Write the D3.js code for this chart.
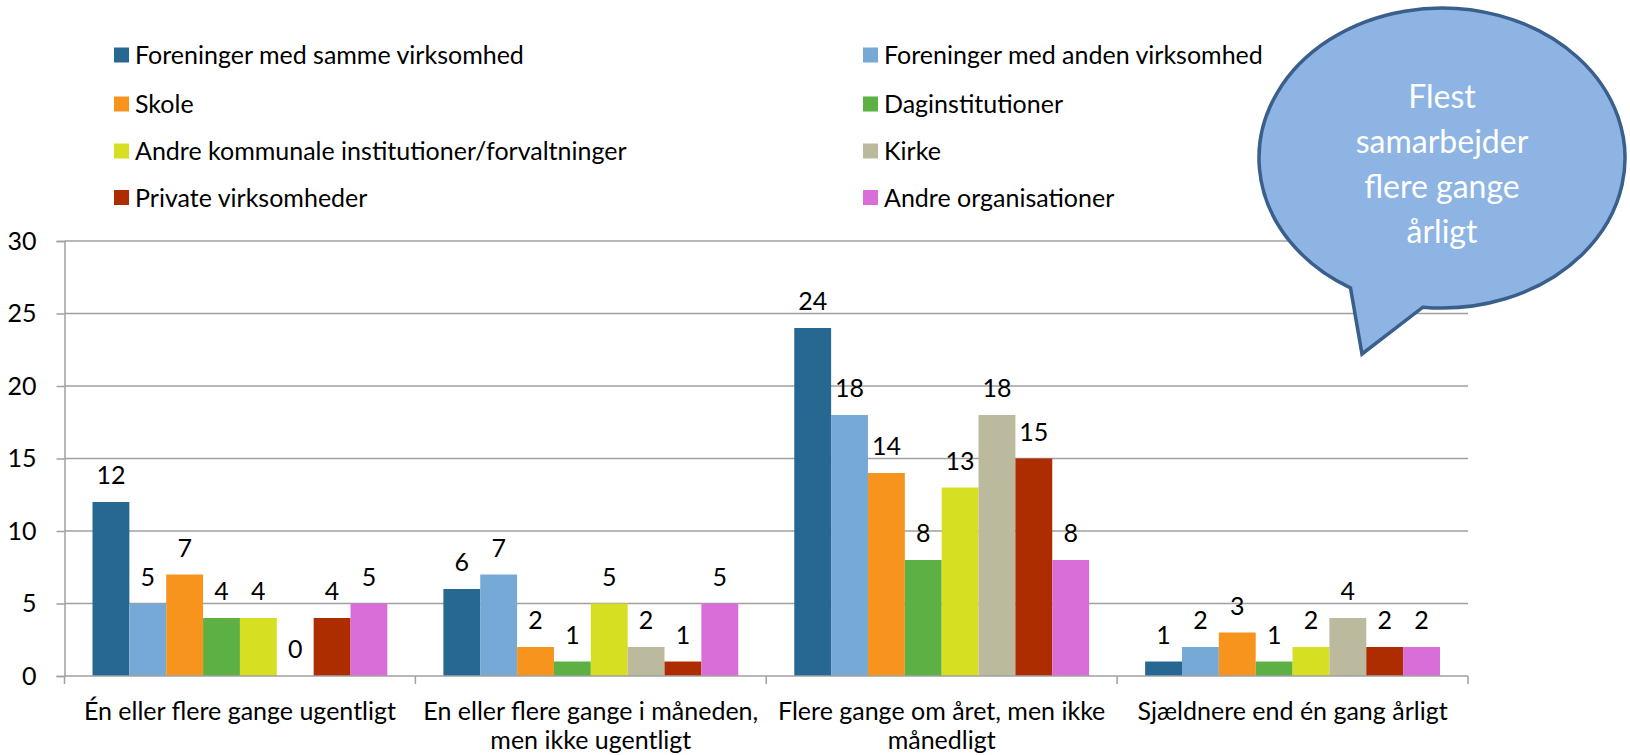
<!DOCTYPE html>
<html>
<head>
<meta charset="utf-8">
<script src="https://cdn.jsdelivr.net/npm/d3@7"></script>
<style>
  body { margin: 0; background: #fff; }
  text { font-family: Lato, "Open Sans", sans-serif; fill: #000; }
</style>
</head>
<body>
<div id="dataviz"></div>
<script>
"use strict";

// categories (line breaks as in the original axis labels)
var categories = [
    "Én eller flere gange ugentligt",
    "En eller flere gange i måneden,\nmen ikke ugentligt",
    "Flere gange om året, men ikke\nmånedligt",
    "Sjældnere end én gang årligt"
];

var seriesNames = [
    "Foreninger med samme virksomhed",
    "Foreninger med anden virksomhed",
    "Skole",
    "Daginstitutioner",
    "Andre kommunale institutioner/forvaltninger",
    "Kirke",
    "Private virksomheder",
    "Andre organisationer"
];

var seriesColors = ["#266892", "#77A9D7", "#F7941E", "#5DB044", "#D7DF23", "#BBBA9E", "#AE2D00", "#D96ED9"];

// values per series, one per category
var foreningerSamme = [12, 6, 24, 1];
var foreningerAnden = [5, 7, 18, 2];
var skole           = [7, 2, 14, 3];
var daginst         = [4, 1, 8, 1];
var andreKommunale  = [4, 5, 13, 2];
var kirke           = [0, 2, 18, 4];
var private_        = [4, 1, 15, 2];
var andreOrg        = [5, 5, 8, 2];

var seriesValues = [foreningerSamme, foreningerAnden, skole, daginst, andreKommunale, kirke, private_, andreOrg];

var yTicks = [0, 5, 10, 15, 20, 25, 30];

var bubbleLines = ["Flest", "samarbejder", "flere gange", "årligt"];

// ---------------------------------------------------------------
var W = 1630, H = 755;
var plot = { left: 64.5, right: 1468, top: 241, bottom: 676 };
var fontSize = 25;

var svg = d3.select("#dataviz").append("svg")
    .attr("width", W)
    .attr("height", H);

var xScale = d3.scaleBand()
    .domain(d3.range(categories.length))
    .range([plot.left, plot.right]);

var x1 = d3.scaleBand()
    .domain(d3.range(seriesNames.length))
    .range([0, xScale.bandwidth()])
    .paddingOuter(0.76);

var yScale = d3.scaleLinear().domain([0, 30]).range([plot.bottom, plot.top]);

// gridlines
svg.append("g")
    .selectAll("line")
    .data(yTicks.slice(1))
    .enter().append("line")
    .attr("x1", plot.left)
    .attr("x2", plot.right)
    .attr("y1", function (d) { return yScale(d); })
    .attr("y2", function (d) { return yScale(d); })
    .attr("stroke", "#A0A0A0")
    .attr("stroke-width", 1.5);

// y axis
var yAxis = d3.axisLeft(yScale).tickValues(yTicks).tickSize(8).tickPadding(20);
var gy = svg.append("g")
    .attr("transform", "translate(" + plot.left + ",0)")
    .call(yAxis);
gy.select(".domain").attr("stroke", "#A0A0A0").attr("stroke-width", 1.5);
gy.selectAll(".tick line").attr("stroke", "#A0A0A0").attr("stroke-width", 1.5);
gy.selectAll(".tick text")
    .attr("font-size", fontSize)
    .attr("font-family", "Lato, sans-serif")
    .attr("fill", "#000");

// bars
var groups = svg.append("g")
    .selectAll("g")
    .data(categories)
    .enter().append("g")
    .attr("transform", function (d, i) { return "translate(" + xScale(i) + ",0)"; });

groups.selectAll("rect")
    .data(function (d, ci) {
        return seriesValues.map(function (vals, si) { return { s: si, v: vals[ci] }; });
    })
    .enter().append("rect")
    .attr("x", function (d) { return x1(d.s); })
    .attr("width", x1.bandwidth())
    .attr("y", function (d) { return yScale(d.v); })
    .attr("height", function (d) { return yScale(0) - yScale(d.v); })
    .attr("fill", function (d) { return seriesColors[d.s]; });

groups.selectAll("text.val")
    .data(function (d, ci) {
        return seriesValues.map(function (vals, si) { return { s: si, v: vals[ci] }; });
    })
    .enter().append("text")
    .attr("class", "val")
    .attr("x", function (d) { return x1(d.s) + x1.bandwidth() / 2; })
    .attr("y", function (d) { return yScale(d.v) - 18; })
    .attr("text-anchor", "middle")
    .attr("font-size", fontSize)
    .text(function (d) { return d.v; });

// x axis line + ticks at category boundaries
svg.append("line")
    .attr("x1", plot.left).attr("x2", plot.right)
    .attr("y1", plot.bottom).attr("y2", plot.bottom)
    .attr("stroke", "#A0A0A0").attr("stroke-width", 1.5);

var bounds = d3.range(categories.length + 1).map(function (i) { return plot.left + i * xScale.step(); });
svg.append("g").selectAll("line")
    .data(bounds)
    .enter().append("line")
    .attr("x1", function (d) { return d; })
    .attr("x2", function (d) { return d; })
    .attr("y1", plot.bottom)
    .attr("y2", plot.bottom + 8)
    .attr("stroke", "#A0A0A0").attr("stroke-width", 1.5);

// x labels
var xl = svg.append("g").selectAll("text")
    .data(categories)
    .enter().append("text")
    .attr("text-anchor", "middle")
    .attr("font-size", fontSize)
    .attr("x", function (d, i) { return xScale(i) + xScale.bandwidth() / 2; })
    .attr("y", 720);
xl.selectAll("tspan")
    .data(function (d) { return d.split("\n"); })
    .enter().append("tspan")
    .attr("x", function () { return this.parentNode.getAttribute("x"); })
    .attr("dy", function (d, i) { return i === 0 ? 0 : 29; })
    .text(function (d) { return d; });

// legend, two columns
var legendX = [114, 863];
var legendY = [55, 104, 151, 197.5];
var legend = svg.append("g").selectAll("g")
    .data(seriesNames)
    .enter().append("g")
    .attr("transform", function (d, i) {
        return "translate(" + legendX[i % 2] + "," + legendY[Math.floor(i / 2)] + ")";
    });
legend.append("rect")
    .attr("x", 0).attr("y", -7.5)
    .attr("width", 15).attr("height", 15)
    .attr("fill", function (d, i) { return seriesColors[i]; });
legend.append("text")
    .attr("x", 21)
    .attr("y", 9)
    .attr("font-size", fontSize)
    .text(function (d) { return d; });

// speech bubble
var bx = 1442, by = 158, rx = 183, ry = 150;
var a1 = 120 * Math.PI / 180, a2 = 96 * Math.PI / 180;
var p1 = [bx + rx * Math.cos(a1), by + ry * Math.sin(a1)];
var p2 = [bx + rx * Math.cos(a2), by + ry * Math.sin(a2)];
var tip = [1362, 354];
svg.append("path")
    .attr("d", "M" + p1 + "L" + tip + "L" + p2 + "A" + rx + " " + ry + " 0 1 0 " + p1 + "Z")
    .attr("fill", "#8EB4E3")
    .attr("stroke", "#3B5F8C")
    .attr("stroke-width", 3.5)
    .attr("stroke-linejoin", "miter");

svg.append("g").selectAll("text")
    .data(bubbleLines)
    .enter().append("text")
    .attr("x", bx)
    .attr("y", function (d, i) { return 108 + i * 45; })
    .attr("text-anchor", "middle")
    .attr("font-size", 32)
    .style("fill", "#fff")
    .text(function (d) { return d; });
</script>
</body>
</html>
